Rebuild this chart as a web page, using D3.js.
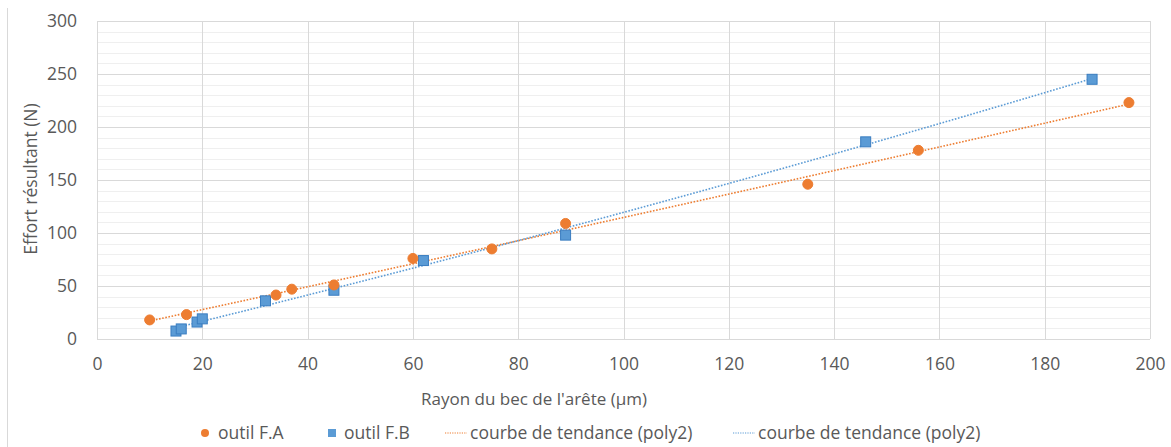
<!DOCTYPE html>
<html>
<head>
<meta charset="utf-8">
<script src="https://cdn.jsdelivr.net/npm/d3@7"></script>
<style>
  body { margin: 0; background: #fff; }
  svg { display: block; font-family: "Open Sans", sans-serif; }
</style>
</head>
<body>
<section id="grafico"></section>
<script>
// outil F.A (orange circles)
const xA = [10, 17, 34, 37, 45, 60, 75, 89, 135, 156, 196];
const yA = [18, 23, 41.5, 47, 51, 76, 85, 109, 146, 178, 223];
// outil F.B (blue squares)
const xB = [15, 16, 19, 20, 32, 45, 62, 89, 146, 189];
const yB = [7.5, 9.5, 16, 19, 36, 46, 74, 98, 186, 245];

const xTicks = [0, 20, 40, 60, 80, 100, 120, 140, 160, 180, 200];
const yTicks = [0, 50, 100, 150, 200, 250, 300];
const legendLabels = ["outil F.A", "outil F.B", "courbe de tendance (poly2)", "courbe de tendance (poly2)"];

const width = 1171;
const height = 447;
const plotL = 97, plotR = 1150, plotT = 21, plotB = 339;
const fs = "17.5px";

const orange = "#ED7D31";
const blue = "#5B9BD5";

const svg = d3.select("section#grafico")
    .append("svg")
    .attr("width", width)
    .attr("height", height);

const xScale = d3.scaleLinear().domain([0, 200]).range([plotL, plotR]);
const yScale = d3.scaleLinear().domain([0, 300]).range([plotB, plotT]);

// chart border (left edge only visible)
svg.append("line")
    .attr("x1", 7.5).attr("x2", 7.5)
    .attr("y1", 8).attr("y2", height)
    .attr("stroke", "#d9d9d9");

// minor horizontal grid
svg.append("g")
    .selectAll("line")
    .data(d3.range(0, 301, 10).filter(v => v % 50 !== 0))
    .enter()
    .append("line")
    .attr("x1", plotL).attr("x2", plotR)
    .attr("y1", d => Math.round(yScale(d)) + 0.5)
    .attr("y2", d => Math.round(yScale(d)) + 0.5)
    .attr("stroke", "#efefef");

// major grid
svg.append("g")
    .selectAll("line")
    .data(yTicks)
    .enter()
    .append("line")
    .attr("x1", plotL).attr("x2", plotR)
    .attr("y1", d => Math.round(yScale(d)) + 0.5)
    .attr("y2", d => Math.round(yScale(d)) + 0.5)
    .attr("stroke", "#d9d9d9");

svg.append("g")
    .selectAll("line")
    .data(xTicks)
    .enter()
    .append("line")
    .attr("y1", plotT).attr("y2", plotB)
    .attr("x1", d => Math.round(xScale(d)) + 0.5)
    .attr("x2", d => Math.round(xScale(d)) + 0.5)
    .attr("stroke", "#d9d9d9");

// axes (labels only)
const xAxis = d3.axisBottom(xScale).tickValues(xTicks).tickSize(0).tickPadding(0);
const yAxis = d3.axisLeft(yScale).tickValues(yTicks).tickSize(0).tickPadding(0);

const gx = svg.append("g")
    .attr("transform", `translate(0,${plotB + 19})`)
    .call(xAxis);
const gy = svg.append("g")
    .attr("transform", `translate(${plotL - 20},0)`)
    .call(yAxis);

[gx, gy].forEach(g => {
    g.select(".domain").remove();
    g.selectAll("text")
        .attr("fill", "#595959")
        .style("font-size", fs)
        .style("font-family", "'Open Sans', sans-serif");
});
gx.selectAll("text").attr("dy", "0.7em");

// axis titles
svg.append("text")
    .attr("x", 534).attr("y", 405)
    .attr("text-anchor", "middle")
    .attr("fill", "#595959")
    .style("font-size", "17px")
    .text("Rayon du bec de l'arête (µm)");

svg.append("text")
    .attr("transform", `translate(37,179) rotate(-90)`)
    .attr("text-anchor", "middle")
    .attr("fill", "#595959")
    .style("font-size", fs)
    .text("Effort résultant (N)");

// quadratic least squares fit
function polyFit2(xs, ys) {
    let n = xs.length, sx = 0, sx2 = 0, sx3 = 0, sx4 = 0, sy = 0, sxy = 0, sx2y = 0;
    for (let i = 0; i < n; i++) {
        const x = xs[i], y = ys[i];
        sx += x; sx2 += x * x; sx3 += x * x * x; sx4 += x * x * x * x;
        sy += y; sxy += x * y; sx2y += x * x * y;
    }
    // solve 3x3 system
    const M = [[n, sx, sx2, sy], [sx, sx2, sx3, sxy], [sx2, sx3, sx4, sx2y]];
    for (let c = 0; c < 3; c++) {
        for (let r = c + 1; r < 3; r++) {
            const f = M[r][c] / M[c][c];
            for (let k = c; k < 4; k++) M[r][k] -= f * M[c][k];
        }
    }
    const b = [0, 0, 0];
    for (let r = 2; r >= 0; r--) {
        let s = M[r][3];
        for (let k = r + 1; k < 3; k++) s -= M[r][k] * b[k];
        b[r] = s / M[r][r];
    }
    return x => b[0] + b[1] * x + b[2] * x * x;
}

const line = d3.line().x(d => xScale(d[0])).y(d => yScale(d[1]));

function trend(xs, ys, color) {
    const f = polyFit2(xs, ys);
    const [x0, x1] = d3.extent(xs);
    const pts = d3.range(0, 101).map(i => {
        const x = x0 + (x1 - x0) * i / 100;
        return [x, f(x)];
    });
    svg.append("path")
        .datum(pts)
        .attr("d", line)
        .attr("fill", "none")
        .attr("stroke", color)
        .attr("stroke-width", 1.6)
        .attr("stroke-dasharray", "1.6,1.6");
}

trend(xA, yA, orange);
trend(xB, yB, blue);

// markers
svg.append("g")
    .selectAll("rect")
    .data(xB.map((x, i) => [x, yB[i]]))
    .enter()
    .append("rect")
    .attr("x", d => xScale(d[0]) - 5)
    .attr("y", d => yScale(d[1]) - 5)
    .attr("width", 10)
    .attr("height", 10)
    .attr("fill", blue)
    .attr("stroke", "#3a7dc0")
    .attr("stroke-width", 1);

svg.append("g")
    .selectAll("circle")
    .data(xA.map((x, i) => [x, yA[i]]))
    .enter()
    .append("circle")
    .attr("cx", d => xScale(d[0]))
    .attr("cy", d => yScale(d[1]))
    .attr("r", 5)
    .attr("fill", orange)
    .attr("stroke", orange);

// legend
const ly = 433;
const leg = svg.append("g").attr("fill", "#595959").style("font-size", fs);

leg.append("circle").attr("cx", 205).attr("cy", ly).attr("r", 4).attr("fill", orange);
leg.append("text").attr("x", 218).attr("y", ly).attr("dy", "0.35em").text(legendLabels[0]);

leg.append("rect").attr("x", 328).attr("y", ly - 4).attr("width", 8).attr("height", 8).attr("fill", blue);
leg.append("text").attr("x", 344).attr("y", ly).attr("dy", "0.35em").text(legendLabels[1]);

leg.append("line").attr("x1", 445).attr("x2", 467).attr("y1", ly).attr("y2", ly)
    .attr("stroke", orange).attr("stroke-width", 1.2).attr("stroke-dasharray", "1.2,1.2");
leg.append("text").attr("x", 470).attr("y", ly).attr("dy", "0.35em").text(legendLabels[2]);

leg.append("line").attr("x1", 733).attr("x2", 755).attr("y1", ly).attr("y2", ly)
    .attr("stroke", blue).attr("stroke-width", 1.2).attr("stroke-dasharray", "1.2,1.2");
leg.append("text").attr("x", 758).attr("y", ly).attr("dy", "0.35em").text(legendLabels[3]);
</script>
</body>
</html>
